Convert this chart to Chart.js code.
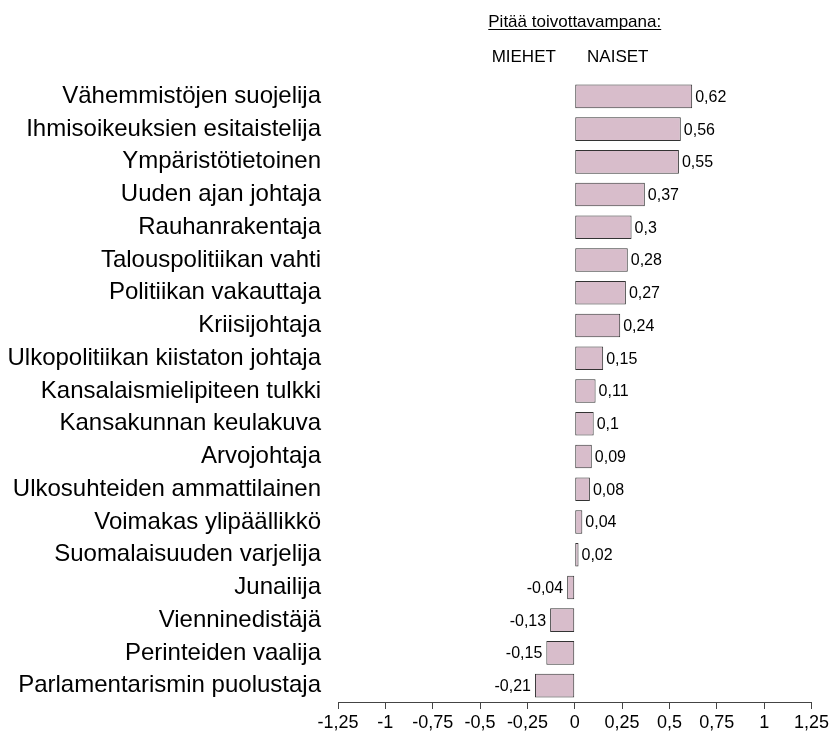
<!DOCTYPE html>
<html>
<head>
<meta charset="utf-8">
<script src="https://cdn.jsdelivr.net/npm/chart.js@4"></script>
<style>
  body { margin: 0; background: #fff; }
  #wrap { width: 832px; height: 738px; }
</style>
</head>
<body>
<div id="wrap"><canvas id="chart" width="832" height="738"></canvas></div>
<script>
const categories = [
  "Vähemmistöjen suojelija",
  "Ihmisoikeuksien esitaistelija",
  "Ympäristötietoinen",
  "Uuden ajan johtaja",
  "Rauhanrakentaja",
  "Talouspolitiikan vahti",
  "Politiikan vakauttaja",
  "Kriisijohtaja",
  "Ulkopolitiikan kiistaton johtaja",
  "Kansalaismielipiteen tulkki",
  "Kansakunnan keulakuva",
  "Arvojohtaja",
  "Ulkosuhteiden ammattilainen",
  "Voimakas ylipäällikkö",
  "Suomalaisuuden varjelija",
  "Junailija",
  "Vienninedistäjä",
  "Perinteiden vaalija",
  "Parlamentarismin puolustaja"
];
const values = [0.62, 0.56, 0.55, 0.37, 0.3, 0.28, 0.27, 0.24, 0.15, 0.11, 0.1, 0.09, 0.08, 0.04, 0.02, -0.04, -0.13, -0.15, -0.21];
const headerTitle = "Pitää toivottavampana:";
const sideLabels = ["MIEHET", "NAISET"];

const FONT = "'Liberation Sans', Arial, sans-serif";
const fmt = (v) => String(v).replace(".", ",");

// header text + bar value labels
const labelPlugin = {
  id: "labels",
  afterDatasetsDraw(chart) {
    const ctx = chart.ctx;
    const x = chart.scales.x;
    ctx.save();
    ctx.fillStyle = "#000";
    ctx.font = "16px " + FONT;
    ctx.textBaseline = "middle";
    chart.getDatasetMeta(0).data.forEach((bar, i) => {
      const v = values[i];
      if (v >= 0) {
        ctx.textAlign = "left";
        ctx.fillText(fmt(v), bar.x + 3, bar.y + 1);
      } else {
        ctx.textAlign = "right";
        ctx.fillText(fmt(v), bar.x - 4, bar.y + 1);
      }
    });

    // header
    const zero = x.getPixelForValue(0);
    ctx.textAlign = "center";
    ctx.textBaseline = "alphabetic";
    ctx.font = "17px " + FONT;
    ctx.fillText(headerTitle, zero, 27);
    const w = ctx.measureText(headerTitle).width;
    ctx.fillRect(zero - w / 2, 29, w, 1);
    ctx.font = "17px " + FONT;
    ctx.fillText(sideLabels[0], zero - 51, 62);
    ctx.fillText(sideLabels[1], zero + 43, 62);
    ctx.restore();
  }
};

new Chart(document.getElementById("chart").getContext("2d"), {
  type: "bar",
  data: {
    labels: categories,
    datasets: [{
      data: values,
      backgroundColor: "#d8bdcb",
      borderColor: "#333",
      borderWidth: 1,
      borderSkipped: false,
      categoryPercentage: 0.72,
      barPercentage: 1
    }]
  },
  options: {
    indexAxis: "y",
    responsive: false,
    animation: false,
    layout: { padding: { top: 80, right: 20, bottom: 0, left: 0 } },
    plugins: { legend: { display: false }, tooltip: { enabled: false } },
    scales: {
      x: {
        min: -1.25,
        max: 1.25,
        afterFit: (s) => { s.height = 36; },
        border: { display: true, color: "#444", width: 1 },
        grid: { display: true, drawOnChartArea: false, drawTicks: true, tickLength: 7, color: "#444" },
        ticks: {
          stepSize: 0.25,
          color: "#000",
          font: { size: 18, family: FONT },
          padding: 3,
          callback: (v) => fmt(Math.round(v * 100) / 100)
        }
      },
      y: {
        afterFit: (s) => { s.width = 338; },
        border: { display: false },
        grid: { display: false },
        ticks: {
          color: "#000",
          padding: 9,
          font: { size: 24, family: FONT }
        }
      }
    }
  },
  plugins: [labelPlugin]
});
</script>
</body>
</html>
